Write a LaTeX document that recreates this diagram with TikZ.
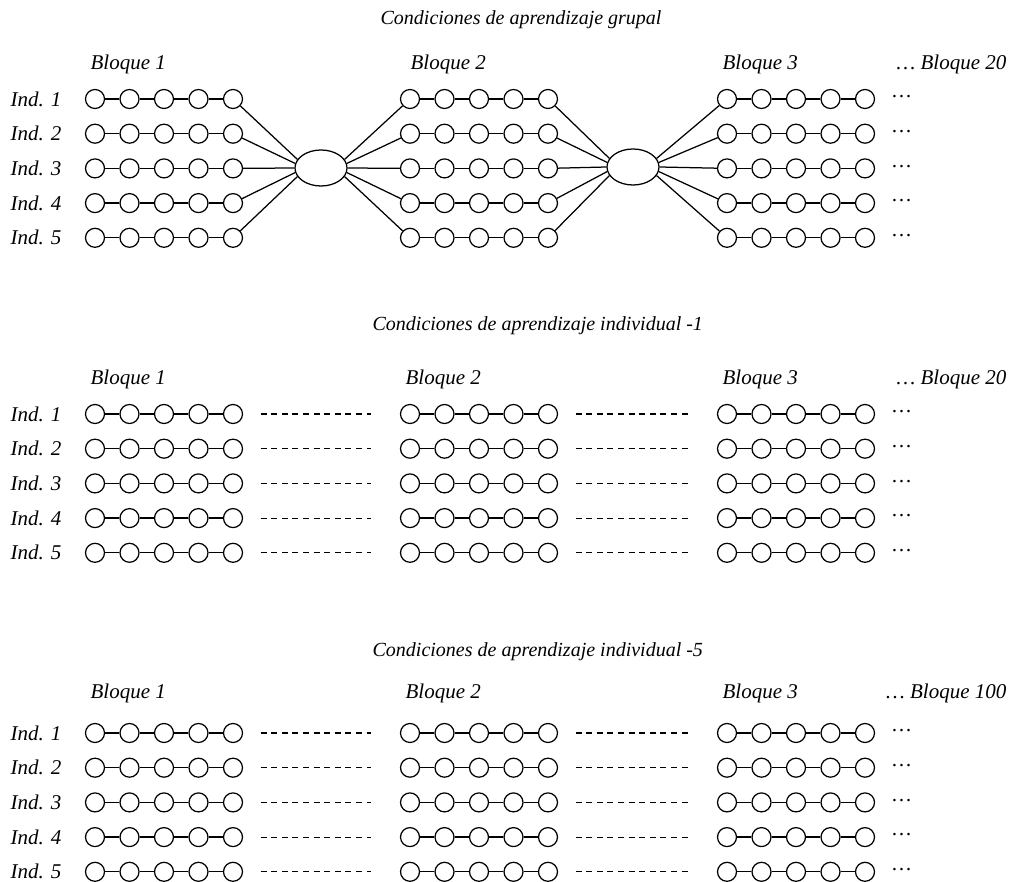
\documentclass[tikz,border=0pt]{standalone}
\usepackage{fontspec}
\setmainfont{Liberation Serif}
\usetikzlibrary{shapes.geometric}
\tikzset{lbl/.style={draw=none, fill=none, minimum size=0pt,
  inner sep=0pt, font=\fontsize{21}{25}\selectfont\itshape}}
\tikzset{ttl/.style={lbl, font=\fontsize{20}{24}\selectfont\itshape}}

\begin{document}
\begin{tikzpicture}[x=1pt, y=-1pt, line width=1.25pt,
  dot/.style={circle, draw, minimum size=19pt, inner sep=0pt},
  hub/.style={ellipse, draw, minimum width=52pt, minimum height=36pt,
  inner sep=0pt},
  gap/.style={line width=1.1pt, dash pattern=on 6pt off 4.6pt,
  shorten <=17.5pt, shorten >=28.5pt}]
  \useasboundingbox (0,0) rectangle (1014,882);
  % Titles
  \node[ttl, anchor=west] (tg) at (380, 20)  {Condiciones de aprendizaje grupal};
  \node[ttl, anchor=west] (ta) at (372, 326) {Condiciones de aprendizaje individual -1};
  \node[ttl, anchor=west] (tb) at (372, 652) {Condiciones de aprendizaje individual -5};
  % Block headings
  \foreach \s/\y/\x/\last in {g/64/410/20, a/379/405/20, b/693/405/100} {
    \node[lbl, anchor=west] (\s-bq1) at (90, \y)  {Bloque 1};
    \node[lbl, anchor=west] (\s-bq2) at (\x, \y)  {Bloque 2};
    \node[lbl, anchor=west] (\s-bq3) at (722, \y) {Bloque 3};
    \node[lbl, anchor=east] (\s-bqn) at (1007, \y) {… Bloque \last};
  }
  % Individuals and their blocks of trials
  \foreach \s/\y in {g/99, a/414, b/733} {
    \foreach \r in {1,...,5} {
      \node[lbl, anchor=west] (\s-ind\r) at (10, \y+34.7*\r-34.7) {Ind. \r};
      \foreach \b/\x in {1/95, 2/410, 3/727} {
        \foreach \c in {1,...,5}
          \node[dot] (\s\b-\r-\c) at (\x+34.5*\c-34.5, \y+34.7*\r-34.7) {};
        \foreach \c [count=\d from 2] in {1,...,4}
          \draw (\s\b-\r-\c) -- (\s\b-\r-\d);
      }
      \node[lbl, anchor=west] (\s-more\r) at (892, \y+34.7*\r-37) {…};
    }
  }
  % Group condition: shared hubs between blocks
  \node[hub] (e1) at (321, 168) {};
  \node[hub] (e2) at (633, 167) {};
  \foreach \r/\a in {1/20, 2/10, 3/0, 4/-10, 5/-20} {
    \draw (g1-\r-5) -- (e1.180-\a);
    \draw (e1.\a) -- (g2-\r-1);
    \draw (g2-\r-5) -- (e2.180-\a);
    \draw (e2.\a) -- (g3-\r-1);
  }
  % Individual conditions: no contact between blocks
  \foreach \s in {a, b}
    \foreach \r in {1,...,5} {
      \draw[gap] (\s1-\r-5) -- (\s2-\r-1);
      \draw[gap] (\s2-\r-5) -- (\s3-\r-1);
    }
\end{tikzpicture}
\end{document}
